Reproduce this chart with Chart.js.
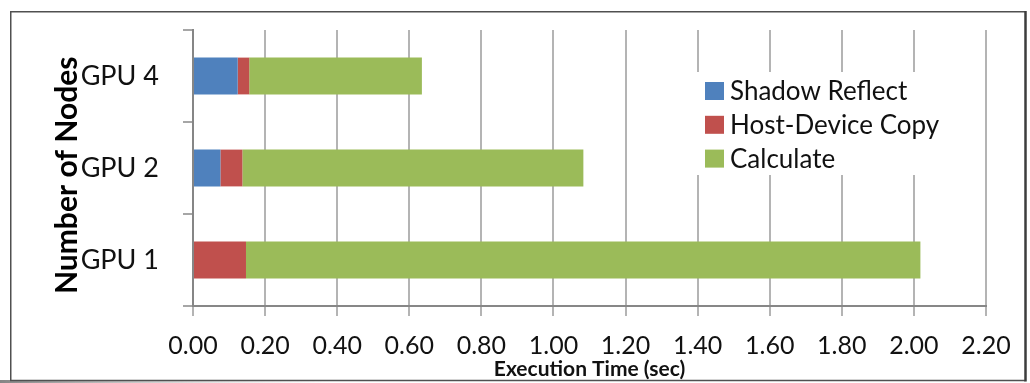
<!DOCTYPE html>
<html>
<head>
<meta charset="utf-8">
<script src="https://cdn.jsdelivr.net/npm/chart.js@4/dist/chart.umd.min.js"></script>
<style>
  html, body { margin: 0; padding: 0; background: #fff; }
  #wrap { position: relative; width: 1030px; height: 383px; }
  canvas { display: block; }
</style>
</head>
<body>
<div id="wrap"><canvas id="chart" width="1030" height="383"></canvas></div>
<script>
// Node configurations (top to bottom)
const categories = ['GPU 4', 'GPU 2', 'GPU 1'];

// Execution time per phase, seconds
const shadowReflect  = [0.124, 0.076, 0.000];
const hostDeviceCopy = [0.032, 0.061, 0.147];
const calculate      = [0.479, 0.946, 1.871];

const seriesNames  = ['Shadow Reflect', 'Host-Device Copy', 'Calculate'];
const seriesColors = ['#4F81BD', '#C0504D', '#9BBB59'];

// Labels for the time axis
const timeTicks = ['0.00', '0.20', '0.40', '0.60', '0.80', '1.00', '1.20', '1.40', '1.60', '1.80', '2.00', '2.20'];

const FONT = 'Lato, Carlito, Calibri, "Open Sans", sans-serif';

// Legend drawn inside the plot on a white patch
const insetLegend = {
  id: 'insetLegend',
  afterDatasetsDraw(chart) {
    const ctx = chart.ctx;
    ctx.save();
    ctx.fillStyle = '#ffffff';
    ctx.fillRect(695, 72, 262, 103);
    ctx.font = '26px ' + FONT;
    ctx.textBaseline = 'middle';
    ctx.textAlign = 'left';
    chart.data.datasets.forEach((ds, i) => {
      const y = 91 + i * 33.8;
      ctx.fillStyle = ds.backgroundColor;
      ctx.fillRect(705, y - 9, 19, 18);
      ctx.fillStyle = '#111';
      ctx.fillText(ds.label, 730, y + 1);
    });
    ctx.restore();
  }
};

// Outer frame around the whole figure
const frame = {
  id: 'frame',
  afterDraw(chart) {
    const ctx = chart.ctx;
    ctx.save();
    const g = ctx.createLinearGradient(0, 0, 330, 0);
    g.addColorStop(0, 'rgba(120,120,120,0.9)');
    g.addColorStop(1, 'rgba(200,200,200,0)');
    ctx.fillStyle = g;
    ctx.fillRect(0, 380, 330, 3);
    ctx.strokeStyle = '#505050';
    ctx.lineWidth = 1.5;
    ctx.beginPath();
    ctx.moveTo(1025.5, 11.75);
    ctx.lineTo(10.75, 11.75);
    ctx.lineTo(10.75, 380.5);
    ctx.lineTo(1025.5, 380.5);
    ctx.stroke();
    ctx.strokeStyle = '#3c3c3c';
    ctx.lineWidth = 2.5;
    ctx.beginPath();
    ctx.moveTo(1025.5, 11);
    ctx.lineTo(1025.5, 381.5);
    ctx.stroke();
    ctx.restore();
  }
};

function build() {
  const datasets = [shadowReflect, hostDeviceCopy, calculate].map((vals, i) => ({
    label: seriesNames[i],
    data: vals,
    backgroundColor: seriesColors[i],
    borderWidth: 0,
    barPercentage: 0.4,
    categoryPercentage: 1.0
  }));

  new Chart(document.getElementById('chart'), {
    type: 'bar',
    data: { labels: categories, datasets },
    plugins: [insetLegend, frame],
    options: {
      responsive: false,
      animation: false,
      indexAxis: 'y',
      devicePixelRatio: 1,
      layout: { padding: { left: 40, right: 44, top: 30, bottom: 0 } },
      plugins: {
        legend: { display: false },
        tooltip: { enabled: false }
      },
      scales: {
        x: {
          type: 'linear',
          stacked: true,
          min: 0,
          max: 2.2,
          afterFit(scale) { scale.height = 77; },
          ticks: {
            stepSize: 0.2,
            autoSkip: false,
            maxRotation: 0,
            padding: 15,
            color: '#111',
            font: { family: FONT, size: 25 },
            callback: (v, i) => timeTicks[i]
          },
          grid: { color: '#b4b4b4', lineWidth: 2, tickLength: 10, drawTicks: true },
          border: { color: '#878787', width: 2 },
          title: {
            display: true,
            text: 'Execution Time (sec)',
            color: '#111',
            font: { family: FONT, size: 21, weight: 'bold' },
            padding: { top: 0, bottom: 1 }
          }
        },
        y: {
          type: 'category',
          stacked: true,
          afterFit(scale) {
            scale.width = 153;
            scale.paddingTop = 0;
            scale.paddingBottom = 0;
          },
          ticks: {
            padding: 24,
            color: '#111',
            font: { family: FONT, size: 27 }
          },
          grid: { drawOnChartArea: false, drawTicks: true, tickLength: 10, color: '#a6a6a6', lineWidth: 2, offset: true },
          border: { color: '#868686', width: 2 },
          title: {
            display: true,
            text: 'Number of Nodes  ',
            color: '#000',
            font: { family: FONT, size: 30, weight: 'bold' },
            padding: { top: 9, bottom: 0 }
          }
        }
      }
    }
  });
}

if (document.fonts && document.fonts.load) {
  Promise.all([
    document.fonts.load('25px Lato'),
    document.fonts.load('bold 30px Lato')
  ]).then(build, build);
} else {
  build();
}
</script>
</body>
</html>
